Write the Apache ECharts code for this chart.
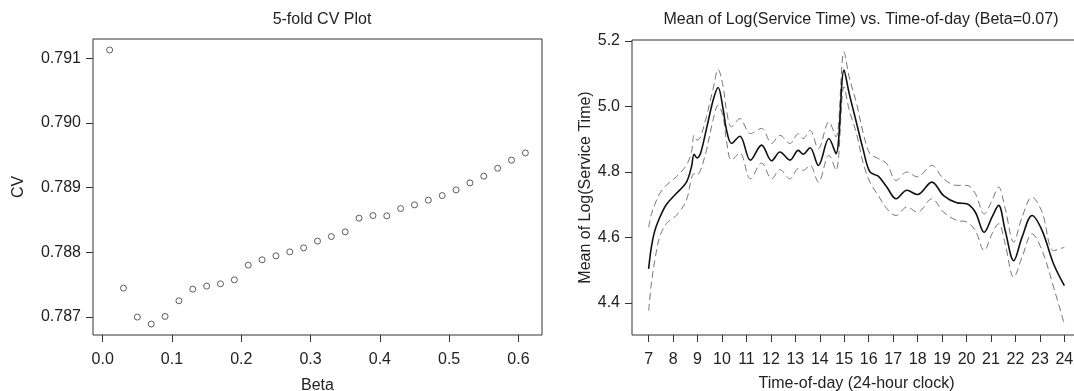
<!DOCTYPE html>
<html><head><meta charset="utf-8">
<script src="https://cdn.jsdelivr.net/npm/echarts@6.0.0/dist/echarts.min.js"></script>
<style>html,body{margin:0;padding:0;background:#fff}#c{width:1074px;height:391px}</style>
</head><body><div id="c"></div>
<script>
// ---- Left panel: 5-fold CV ----
const betaValues = [0.01,0.03,0.05,0.07,0.09,0.11,0.13,0.15,0.17,0.19,0.21,0.23,0.25,0.27,0.29,0.31,0.33,0.35,0.37,0.39,0.41,0.43,0.45,0.47,0.49,0.51,0.53,0.55,0.57,0.59,0.61];
const cvValues = [0.791128,0.787448,0.787000,0.786892,0.787010,0.787252,0.787432,0.787479,0.787514,0.787576,0.787803,0.787885,0.787947,0.788008,0.788070,0.788174,0.788245,0.788317,0.788529,0.788569,0.788564,0.788677,0.788734,0.788807,0.788878,0.788966,0.789074,0.789178,0.789301,0.789425,0.789537];
const betaTicks = [0.0,0.1,0.2,0.3,0.4,0.5,0.6];
const cvTicks = [0.787,0.788,0.789,0.790,0.791];

// ---- Right panel: mean of log(service time) ----
const hours = [7.0,7.11,7.25,7.45,7.72,8.13,8.54,8.75,8.86,8.98,9.12,9.36,9.64,9.84,10.05,10.18,10.39,10.73,11.16,11.62,12.03,12.37,12.78,13.12,13.32,13.6,13.94,14.37,14.66,14.99,15.2,15.5,15.78,16.05,16.39,16.74,17.12,17.56,17.99,18.58,19.06,19.6,20.01,20.36,20.72,21.04,21.31,21.58,21.93,22.27,22.68,23.09,23.56,24.0];
const meanLog = [4.504,4.57,4.62,4.66,4.70,4.734,4.768,4.815,4.854,4.843,4.856,4.93,5.02,5.058,4.99,4.93,4.887,4.909,4.836,4.882,4.834,4.861,4.836,4.866,4.854,4.874,4.820,4.902,4.856,5.111,5.04,4.95,4.866,4.80,4.787,4.754,4.718,4.744,4.731,4.769,4.728,4.706,4.703,4.677,4.616,4.662,4.698,4.621,4.529,4.601,4.667,4.621,4.519,4.453];
const upperBand = [4.631,4.67,4.70,4.734,4.759,4.785,4.82,4.86,4.912,4.897,4.907,4.968,5.055,5.113,5.06,4.989,4.938,4.963,4.917,4.933,4.887,4.912,4.887,4.917,4.902,4.927,4.871,4.953,4.907,5.167,5.09,5.01,4.917,4.856,4.841,4.825,4.774,4.80,4.785,4.82,4.779,4.759,4.759,4.734,4.672,4.713,4.754,4.688,4.586,4.662,4.723,4.677,4.56,4.57];
const lowerBand = [4.376,4.458,4.529,4.601,4.642,4.667,4.713,4.78,4.795,4.79,4.805,4.865,4.96,5.004,4.968,4.897,4.836,4.858,4.779,4.827,4.779,4.807,4.779,4.81,4.805,4.82,4.769,4.851,4.805,5.06,4.99,4.917,4.825,4.769,4.728,4.688,4.667,4.693,4.677,4.718,4.677,4.652,4.647,4.621,4.56,4.611,4.642,4.58,4.478,4.54,4.611,4.56,4.448,4.335];
const hourTicks = [7,8,9,10,11,12,13,14,15,16,17,18,19,20,21,22,23,24];
const logTicks = [4.4,4.6,4.8,5.0,5.2];

const FONT = "'Liberation Sans', Arial, Helvetica, sans-serif";
const TXT = '#222';
const chart = echarts.init(document.getElementById('c'), null, {renderer: 'canvas'});

function valAxis(extra) {
  return Object.assign({
    type: 'value',
    scale: true,
    splitLine: {show: false},
    axisLine: {show: false, onZero: false},
    nameLocation: 'middle',
    nameTextStyle: {fontFamily: FONT, fontSize: 16, color: TXT},
  }, extra);
}
function ticksCfg(vals, margin, fmt) {
  return {
    axisTick: {show: true, inside: false, length: 7, customValues: vals, lineStyle: {color: '#333', width: 1}},
    axisLabel: {show: true, customValues: vals, margin: margin, fontFamily: FONT, fontSize: 16, color: TXT, formatter: fmt, hideOverlap: false}
  };
}

const bandData = arr => hours.map((h, i) => [h, arr[i]]);

chart.setOption({
  animation: false,
  backgroundColor: '#fff',
  title: [
    {text: '5-fold CV Plot', left: 317, top: 7, textAlign: 'center',
     textStyle: {fontFamily: FONT, fontSize: 16, fontWeight: 'normal', color: TXT}},
    {text: 'Mean of Log(Service Time) vs. Time-of-day (Beta=0.07)', left: 856, top: 7, textAlign: 'center',
     textStyle: {fontFamily: FONT, fontSize: 16, fontWeight: 'normal', color: TXT}}
  ],
  grid: [
    {left: 93, right: 532, top: 39, bottom: 56, show: true, borderColor: '#333', borderWidth: 1, backgroundColor: 'transparent', containLabel: false, outerBoundsMode: 'none'},
    {left: 632, right: -7, top: 40, bottom: 56, show: true, borderColor: '#333', borderWidth: 1, backgroundColor: 'transparent', containLabel: false, outerBoundsMode: 'none'}
  ],
  xAxis: [
    valAxis(Object.assign({gridIndex: 0, min: -0.014, max: 0.634, name: 'Beta', nameGap: 43},
      ticksCfg(betaTicks, 17, v => v.toFixed(1)))),
    valAxis(Object.assign({gridIndex: 1, min: 6.32, max: 24.68, name: 'Time-of-day (24-hour clock)', nameGap: 41},
      ticksCfg(hourTicks, 17, v => String(Math.round(v)))))
  ],
  yAxis: [
    valAxis(Object.assign({gridIndex: 0, min: 0.786723, max: 0.791298, name: 'CV', nameGap: 66},
      ticksCfg(cvTicks, 12, v => v.toFixed(3)))),
    valAxis(Object.assign({gridIndex: 1, min: 4.302, max: 5.203, name: 'Mean of Log(Service Time)', nameGap: 38},
      ticksCfg(logTicks, 12, v => v.toFixed(1))))
  ],
  series: [
    {type: 'scatter', xAxisIndex: 0, yAxisIndex: 0,
     data: betaValues.map((b, i) => [b, cvValues[i]]),
     symbol: 'circle', symbolSize: 6,
     itemStyle: {color: '#fff', borderColor: '#222', borderWidth: 0.9}},
    {type: 'line', xAxisIndex: 1, yAxisIndex: 1, data: bandData(upperBand), smooth: 0.35,
     showSymbol: false, lineStyle: {color: '#777', width: 1, type: [7, 4]}},
    {type: 'line', xAxisIndex: 1, yAxisIndex: 1, data: bandData(lowerBand), smooth: 0.35,
     showSymbol: false, lineStyle: {color: '#777', width: 1, type: [7, 4]}},
    {type: 'line', xAxisIndex: 1, yAxisIndex: 1, data: bandData(meanLog), smooth: 0.35,
     showSymbol: false, lineStyle: {color: '#111', width: 1.6}}
  ]
});
</script>
</body></html>
